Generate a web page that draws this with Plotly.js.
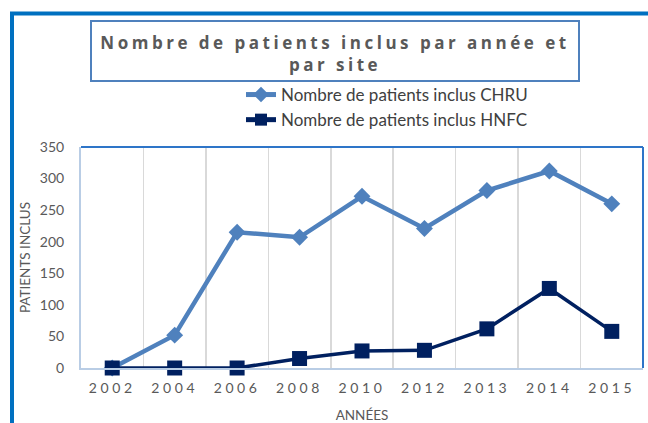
<!DOCTYPE html>
<html>
<head>
<meta charset="utf-8">
<script src="https://cdn.plot.ly/plotly-3.0.1.min.js"></script>
<style>
html,body{margin:0;padding:0;background:#fff;}
.xtick text{letter-spacing:3.6px;}
.gtitle{letter-spacing:3.5px;}
</style>
</head>
<body>
<div id="chart" style="width:648px;height:423px;"></div>
<script>
const years = ['2002','2004','2006','2008','2010','2012','2013','2014','2015'];
const chru = [0, 52, 215, 207, 272, 221, 281, 312, 260];
const hnfc = [0, 0, 0, 15, 27, 28, 62, 126, 58];
const seriesNames = ['Nombre de patients inclus CHRU', 'Nombre de patients inclus HNFC'];
const chartTitle = 'Nombre de patients inclus par année et<br>par site';
const yTitle = 'PATIENTS INCLUS';
const xTitle = 'ANNÉES';

// pixel helpers (plot area: x 81..643, y 147..368)
const W = 648, H = 423;
const L = 81, R = 643, T = 147, B = 368;
const px = p => (p - L) / (R - L);
const py = p => (B - p) / (B - T);

const traces = [
  {x: years, y: chru, name: seriesNames[0], type: 'scatter', mode: 'lines+markers', cliponaxis: false,
   line: {color: '#4F81BD', width: 4.5},
   marker: {symbol: 'diamond', size: 13, color: '#4F81BD'}},
  {x: years, y: hnfc, name: seriesNames[1], type: 'scatter', mode: 'lines+markers', cliponaxis: false,
   line: {color: '#002060', width: 3.5},
   marker: {symbol: 'square', size: 15, color: '#002060'}}
];

const font = 'Lato, "Open Sans", sans-serif';
const layout = {
  width: W, height: H,
  margin: {l: L, r: W - R, t: T, b: H - B, pad: 0, autoexpand: false},
  paper_bgcolor: '#ffffff', plot_bgcolor: '#ffffff',
  font: {family: font, color: '#595959'},
  title: {text: chartTitle, xref: 'container', yref: 'container',
          x: 335 / W, xanchor: 'center', y: 1 - 49 / H, yanchor: 'middle',
          font: {family: '"Open Sans", sans-serif', size: 17, color: '#595959', weight: 'bold'}},
  showlegend: true,
  legend: {x: px(241), xanchor: 'left', y: py(77), yanchor: 'top', orientation: 'v',
           font: {family: font, size: 17, color: '#404040'}, bgcolor: 'rgba(0,0,0,0)',
           tracegroupgap: 0, itemsizing: 'constant'},
  xaxis: {type: 'category', range: [-0.5, years.length - 0.5], autorange: false,
          tickson: 'boundaries', showgrid: true, gridcolor: '#D9D9D9', gridwidth: 1.5,
          showline: true, linecolor: '#B9CDE5', linewidth: 2, ticks: '', zeroline: false,
          ticklabelstandoff: 6,
          tickfont: {family: font, size: 14, color: '#595959'},
          title: {text: xTitle, font: {family: font, size: 13.5, color: '#595959'}, standoff: 26},
          fixedrange: true},
  yaxis: {range: [0, 350], autorange: false, dtick: 50, showgrid: false, zeroline: false,
          showline: true, linecolor: '#B9CDE5', linewidth: 2, ticks: '',
          ticklabelstandoff: 12,
          tickfont: {family: font, size: 14, color: '#595959'},
          title: {text: yTitle, font: {family: font, size: 13.5, color: '#595959'}, standoff: 6},
          fixedrange: true},
  shapes: [
    // outer frame
    {type: 'line', xref: 'paper', yref: 'paper', x0: px(12), x1: px(12), y0: py(12), y1: py(430),
     line: {color: '#0070C0', width: 4}},
    {type: 'line', xref: 'paper', yref: 'paper', x0: px(10), x1: px(650), y0: py(13.5), y1: py(13.5),
     line: {color: '#0070C0', width: 4}},
    // title box
    {type: 'rect', xref: 'paper', yref: 'paper', x0: px(91), x1: px(579), y0: py(21), y1: py(81),
     line: {color: '#4F81BD', width: 2}, fillcolor: 'rgba(0,0,0,0)', layer: 'below'},
    // plot area top & right border
    {type: 'line', xref: 'paper', yref: 'paper', x0: 0, x1: 1, y0: 1, y1: 1,
     line: {color: '#2E75C8', width: 2}},
    {type: 'line', xref: 'paper', yref: 'paper', x0: 1, x1: 1, y0: 0, y1: 1,
     line: {color: '#2E75C8', width: 2}}
  ]
};

Plotly.newPlot('chart', traces, layout, {displayModeBar: false, staticPlot: true});
</script>
</body>
</html>
